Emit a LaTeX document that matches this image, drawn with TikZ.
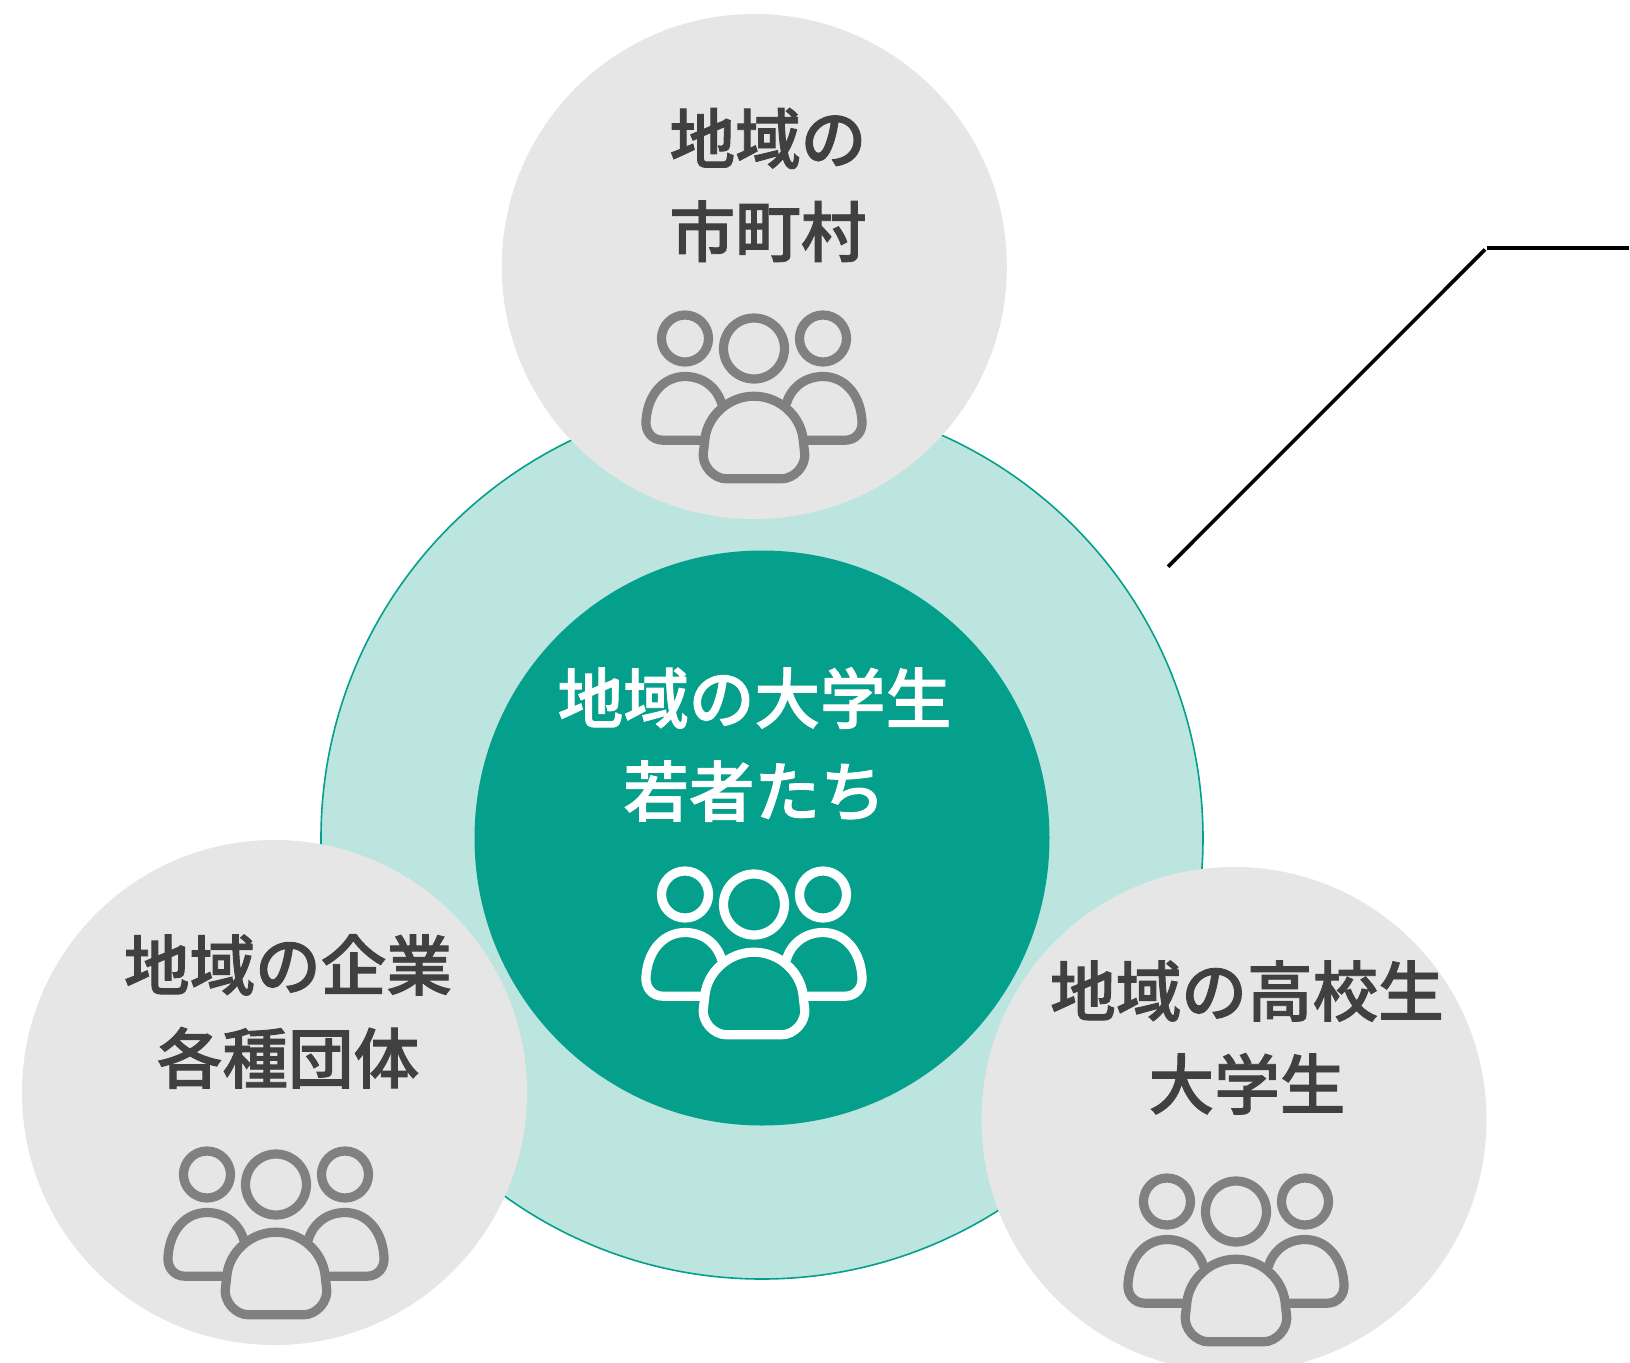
\documentclass[tikz,border=0pt]{standalone}
\usepackage{fontspec}
\newfontfamily\cjk{Noto Sans CJK JP Medium}[FakeBold=1.4]
\definecolor{tealdark}{HTML}{04A08C}
\definecolor{teallight}{HTML}{BDE5E0}
\definecolor{greydisc}{HTML}{E6E6E6}
\definecolor{greyicon}{HTML}{808080}
\definecolor{greytext}{HTML}{404040}
\tikzset{
  x=0.5pt,y=-0.5pt,
  disc/.style={circle,inner sep=0pt,outer sep=0pt,minimum size=252.5pt,fill=greydisc},
  label/.style={align=center,inner sep=0pt,font=\cjk\fontsize{32.8}{46.5}\selectfont,text=greytext},
  whitelabel/.style={label,text=white},
  leader/.style={line width=1.8pt,black},
  pics/people/.style={code={
    \begin{scope}[draw=#1,line width=4.6pt,fill=none]
      \draw (0,0) circle[radius=30.5];
      \draw (-69,-10) circle[radius=23.5];
      \draw (69,-10) circle[radius=23.5];
      \draw (-52.3,91.7) -- (-91,91.7) .. controls (-102,91.7) and (-109,83) .. (-108,72)
        .. controls (-106,44) and (-89,28) .. (-69,28) .. controls (-51,28) and (-37,39) .. (-32.3,55.3);
      \draw (52.3,91.7) -- (91,91.7) .. controls (102,91.7) and (109,83) .. (108,72)
        .. controls (106,44) and (89,28) .. (69,28) .. controls (51,28) and (37,39) .. (32.3,55.3);
      \draw (-27.3,130.3) -- (27.3,130.3) .. controls (41,130.3) and (52,116.5) .. (50.7,105)
        -- (49,90) .. controls (46.5,68) and (26,47.7) .. (0,47.7) .. controls (-26,47.7) and (-46.5,68) .. (-49,90) -- (-50.7,105)
        .. controls (-52,116.5) and (-41,130.3) .. (-27.3,130.3) -- cycle;
    \end{scope}
  }},
}
\begin{document}
\begin{tikzpicture}
\useasboundingbox (0,0) rectangle (1630,1362);
\fill[white] (0,0) rectangle (1630,1362);
\node[circle,inner sep=0pt,outer sep=0pt,minimum size=441pt,fill=teallight,draw=tealdark,line width=0.8pt] (outer) at (762,838) {};
\node[circle,inner sep=0pt,outer sep=0pt,minimum size=287.5pt,fill=tealdark] (inner) at (762,838) {};
\node[disc] (top) at (754.3,266.5) {};
\node[disc] (left) at (274.5,1092.5) {};
\node[disc] (right) at (1234,1119.5) {};
\node[label] (toptext) at (768,185) {地域の\\市町村};
\node[whitelabel] (midtext) at (754.5,744.5) {地域の大学生\\若者たち};
\node[label] (lefttext) at (288,1011.5) {地域の企業\\各種団体};
\node[label] (righttext) at (1247,1037.5) {地域の高校生\\大学生};
\pic at (754,348.5) {people=greyicon};
\pic at (754,904.5) {people=white};
\pic at (276,1184.5) {people=greyicon};
\pic at (1236,1211.5) {people=greyicon};
\coordinate (la) at (1168,566.7);
\coordinate (lb) at (1485,249.5);
\coordinate (lc) at (1487,248);
\coordinate (ld) at (1629,248);
\draw[leader] (la) -- (lb);
\draw[leader] (lc) -- (ld);
\end{tikzpicture}
\end{document}
